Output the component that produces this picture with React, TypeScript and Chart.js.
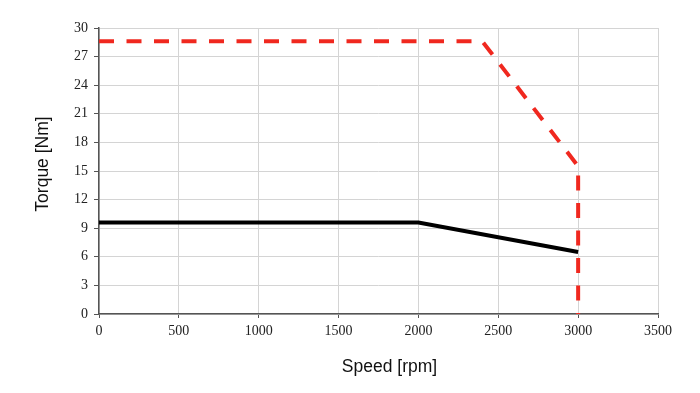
import React, { useEffect, useRef } from "react";
import { Chart, registerables } from "chart.js";

Chart.register(...registerables);

const xTicks = [0, 500, 1000, 1500, 2000, 2500, 3000, 3500];
const yTicks = [0, 3, 6, 9, 12, 15, 18, 21, 24, 27, 30];

const peakSpeed = [0, 2400, 3000, 3000];
const peakTorque = [28.6, 28.6, 15.5, 0];

const contSpeed = [0, 2000, 3000];
const contTorque = [9.6, 9.6, 6.5];

const xTitle = "Speed [rpm]";
const yTitle = "Torque [Nm]";

const axisTitles = {
  id: "axisTitles",
  afterDraw(chart: any) {
    const { ctx, chartArea } = chart;
    ctx.save();
    ctx.fillStyle = "#111";
    ctx.font = "17.5px 'Liberation Sans', Arial, Helvetica, sans-serif";
    ctx.textAlign = "center";
    ctx.textBaseline = "middle";
    ctx.fillText(xTitle, (chartArea.left + chartArea.right) / 2 + 11, 367);
    ctx.translate(43, (chartArea.top + chartArea.bottom) / 2 - 7);
    ctx.rotate(-Math.PI / 2);
    ctx.fillText(yTitle, 0, 0);
    ctx.restore();
  },
};

export default function App() {
  const ref = useRef<HTMLCanvasElement>(null);
  useEffect(() => {
    if (!ref.current) return;
    const tickFont = { family: "'Liberation Serif', 'Times New Roman', serif", size: 14 };
    const chart = new Chart(ref.current, {
      type: "scatter",
      data: {
        datasets: [
          {
            label: "Peak",
            data: peakSpeed.map((x, i) => ({ x, y: peakTorque[i] })),
            showLine: true,
            borderColor: "#f0281f",
            borderWidth: 4,
            borderDash: [15, 12.5],
            pointRadius: 0,
            fill: false,
          },
          {
            label: "Continuous",
            data: contSpeed.map((x, i) => ({ x, y: contTorque[i] })),
            showLine: true,
            borderColor: "#000000",
            borderWidth: 4,
            pointRadius: 0,
            fill: false,
          },
        ],
      },
      plugins: [axisTitles],
      options: {
        animation: false,
        responsive: false,
        maintainAspectRatio: false,
        layout: { padding: { left: 0, right: 42, top: 28, bottom: 0 } },
        plugins: { legend: { display: false }, tooltip: { enabled: false } },
        scales: {
          x: {
            type: "linear",
            min: 0,
            max: 3500,
            afterBuildTicks: (s: any) => {
              s.ticks = xTicks.map((v) => ({ value: v }));
            },
            afterFit: (s: any) => {
              s.height = 79;
            },
            ticks: { font: tickFont, color: "#222", padding: 5, maxRotation: 0, callback: (v: any) => String(v) },
            grid: { color: "#d4d4d4", tickColor: "#555", tickLength: 4, lineWidth: 1 },
            border: { color: "#555", width: 1.5 },
          },
          y: {
            type: "linear",
            min: 0,
            max: 30,
            afterBuildTicks: (s: any) => {
              s.ticks = yTicks.map((v) => ({ value: v }));
            },
            afterFit: (s: any) => {
              s.width = 99;
            },
            ticks: { font: tickFont, color: "#222", padding: 6, callback: (v: any) => String(v) },
            grid: { color: "#d4d4d4", tickColor: "#555", tickLength: 5, lineWidth: 1 },
            border: { color: "#555", width: 1.5 },
          },
        },
      },
    });
    return () => chart.destroy();
  }, []);
  return (
    <div style={{ position: "fixed", left: 0, top: 0, width: 700, height: 393, background: "#fff" }}>
      <canvas ref={ref} width={700} height={393} style={{ width: 700, height: 393 }} />
    </div>
  );
}
